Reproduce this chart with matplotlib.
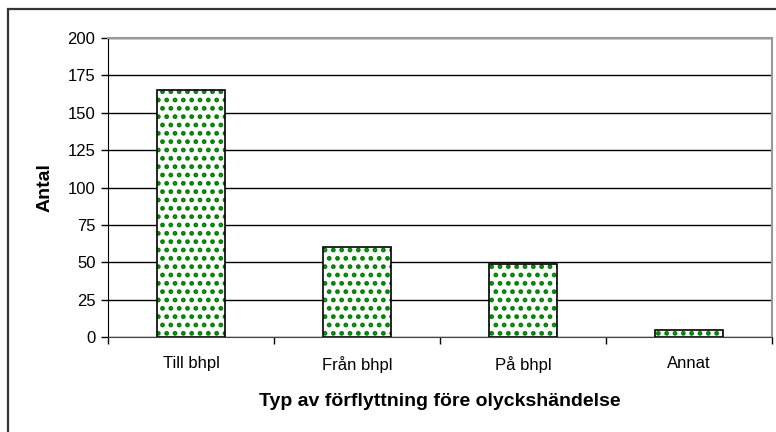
import matplotlib
matplotlib.use('Agg')
import matplotlib.pyplot as plt
from matplotlib.patches import Rectangle
import numpy as np

categories = ['Till bhpl', 'Från bhpl', 'På bhpl', 'Annat']
values = [165, 60, 49, 5]
yticks = [0, 25, 50, 75, 100, 125, 150, 175, 200]

plt.rcParams['font.family'] = ['Liberation Sans', 'DejaVu Sans']
plt.rcParams['hatch.linewidth'] = 2.2

fig = plt.figure(figsize=(7.76, 4.32), dpi=100)
fig.patches.append(Rectangle((8 / 776, -0.1), 1.2, 1 - 9 / 432 + 0.1,
                             transform=fig.transFigure, fill=False,
                             edgecolor='#333333', linewidth=1.6, zorder=0))

ax = fig.add_axes([108 / 776, 1 - 337 / 432, 664 / 776, 299 / 432])
x = np.arange(len(categories))

# motif vert pointillé puis contour noir
ax.bar(x, values, width=0.41, color='white', edgecolor='#008000',
       hatch='..', linewidth=0, zorder=3)
ax.bar(x, values, width=0.41, color='none', edgecolor='black',
       linewidth=1.2, zorder=4)

ax.set_xlim(-0.5, len(categories) - 0.5)
ax.set_ylim(0, 200)
ax.set_yticks(yticks)
ax.yaxis.grid(True, color='black', linewidth=1)
ax.set_axisbelow(True)

ax.set_xticks(x)
ax.set_xticklabels(categories, fontsize=12)
ax.set_xticks(np.arange(-0.5, len(categories)), minor=True)
ax.tick_params(axis='x', which='major', length=0, pad=14)
ax.tick_params(axis='x', which='minor', length=5, width=1, direction='out')
ax.tick_params(axis='y', length=5, width=1, labelsize=12, pad=4)

for side in ['top', 'right']:
    ax.spines[side].set_color('#999999')
    ax.spines[side].set_linewidth(1.5)
ax.spines['left'].set_color('black')
ax.spines['bottom'].set_color('#444444')

ax.set_ylabel('Antal', fontsize=14, fontweight='bold', labelpad=10)
ax.set_xlabel('Typ av förflyttning före olyckshändelse', fontsize=14,
              fontweight='bold', labelpad=14)

fig.savefig('out.png', dpi=100)
